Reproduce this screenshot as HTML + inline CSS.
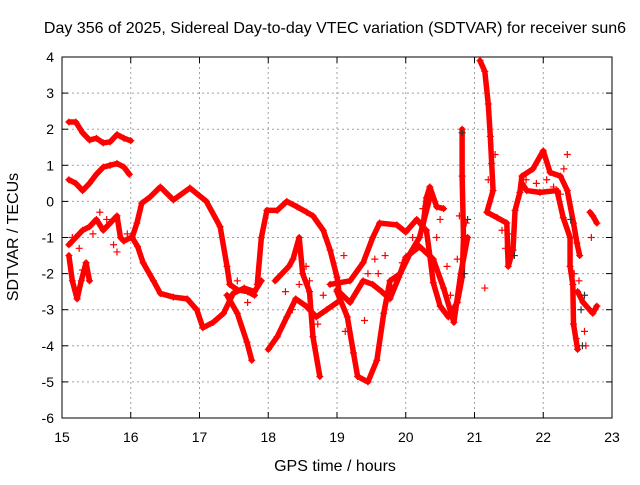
<!DOCTYPE html>
<html><head><meta charset="utf-8"><style>
body{margin:0;background:#fff;}
svg text{font-family:"Liberation Sans",sans-serif;font-size:14px;fill:#000;}
svg text.big{font-size:16px;}
</style></head><body>
<svg id="chart" width="640" height="480" viewBox="0 0 640 480" xmlns="http://www.w3.org/2000/svg">
<text class="big" x="335" y="33" text-anchor="middle">Day 356 of 2025, Sidereal Day-to-day VTEC variation (SDTVAR) for receiver sun6</text>
<text class="big" x="335" y="471" text-anchor="middle">GPS time / hours</text>
<text class="big" transform="translate(18,237) rotate(-90)" text-anchor="middle">SDTVAR / TECUs</text>
<g id="grid"></g>
<g id="marks"></g>
<rect x="62" y="57" width="550" height="361" fill="none" stroke="#000" stroke-width="1"/>
<g id="ticks"></g>
</svg>
<script>
const xTicks=[15,16,17,18,19,20,21,22,23];
const yTicks=[4,3,2,1,0,-1,-2,-3,-4,-5,-6];
const traceA=[[15.1,2.2],[15.2,2.2],[15.3,1.9],[15.4,1.7],[15.5,1.75],[15.6,1.62],[15.7,1.65],[15.8,1.85],[15.9,1.75],[16.0,1.68]];
const traceB=[[15.1,0.6],[15.2,0.5],[15.3,0.3],[15.4,0.5],[15.5,0.75],[15.6,0.95],[15.7,1.0],[15.8,1.05],[15.9,0.95],[15.98,0.75]];
const traceC1=[[15.1,-1.5],[15.15,-2.2],[15.22,-2.7],[15.28,-2.2],[15.35,-1.7],[15.4,-2.2]];
const traceC2=[[15.1,-1.2],[15.2,-1.0],[15.3,-0.8],[15.4,-0.7],[15.5,-0.5],[15.6,-0.8],[15.7,-0.6],[15.8,-0.4],[15.85,-1.0],[15.9,-1.1],[16.0,-1.0]];
const traceD=[[16.02,-1.0],[16.09,-0.6],[16.16,-0.05],[16.28,0.12],[16.43,0.4],[16.62,0.04],[16.86,0.37],[17.1,0.0],[17.3,-0.7],[17.4,-1.8],[17.44,-2.3],[17.55,-2.45],[17.7,-2.5],[17.8,-2.6]];
const traceD2=[[16.02,-1.0],[16.1,-1.25],[16.18,-1.7],[16.33,-2.2],[16.43,-2.55],[16.62,-2.65],[16.82,-2.7],[16.96,-3.0],[17.05,-3.5],[17.2,-3.35],[17.35,-3.1],[17.49,-2.55],[17.65,-2.4],[17.8,-2.5],[17.9,-2.2]];
const traceD3=[[17.4,-2.6],[17.55,-3.1],[17.69,-3.9],[17.76,-4.4]];
const traceE=[[17.84,-2.3],[17.9,-1.0],[17.98,-0.25],[18.13,-0.25],[18.27,0.0],[18.42,-0.15],[18.56,-0.3],[18.65,-0.4],[18.8,-0.8],[18.9,-1.35],[19.0,-2.1],[19.04,-2.65]];
const traceE2=[[18.0,-4.1],[18.13,-3.75],[18.27,-3.2],[18.4,-2.7],[18.55,-2.9],[18.7,-3.2],[18.85,-3.0],[19.0,-2.8]];
const traceE3=[[18.1,-2.2],[18.2,-2.0],[18.3,-1.8],[18.36,-1.6],[18.45,-1.0],[18.5,-2.0],[18.6,-2.5],[18.65,-3.75],[18.75,-4.85]];
const traceF=[[18.9,-2.3],[19.19,-2.2],[19.38,-1.7],[19.52,-1.0],[19.62,-0.6],[19.87,-0.65],[20.0,-0.85],[20.16,-0.5],[20.25,-0.7],[20.3,0.1],[20.35,0.4],[20.45,-0.15],[20.55,-0.2]];
const traceF2=[[20.3,-0.8],[20.35,-1.5],[20.4,-2.25],[20.5,-2.9],[20.62,-3.2],[20.75,-2.8],[20.82,-2.1],[20.84,-1.0],[20.82,0.7],[20.82,2.0]];
const traceF3=[[19.0,-2.5],[19.15,-3.2],[19.24,-4.2],[19.3,-4.85],[19.45,-5.0],[19.58,-4.4],[19.68,-3.1],[19.77,-2.2],[19.92,-2.0],[20.06,-1.45],[20.2,-1.0],[20.35,0.1]];
const traceF4=[[19.0,-2.45],[19.19,-2.8],[19.38,-2.2],[19.52,-2.3],[19.65,-2.5],[19.77,-2.7],[19.9,-2.1],[20.0,-1.55],[20.2,-1.25],[20.4,-1.6],[20.55,-2.4],[20.7,-3.35],[20.8,-2.0],[20.9,-1.0]];
const traceG=[[21.08,3.9],[21.15,3.6],[21.2,2.7],[21.23,1.8],[21.25,1.05],[21.27,0.3],[21.18,-0.3],[21.33,-0.45],[21.47,-0.6],[21.49,-1.8],[21.56,-1.35],[21.59,-0.25],[21.66,0.25],[21.69,0.7],[21.85,0.9],[22.0,1.4],[22.1,0.8],[22.25,0.7],[22.35,0.3],[22.44,-0.6],[22.49,-1.15],[22.53,-1.5]];
const traceG2=[[21.69,0.5],[21.76,0.3],[21.95,0.25],[22.2,0.3],[22.29,-0.45],[22.39,-1.0],[22.39,-1.8],[22.43,-2.3],[22.44,-3.4],[22.5,-4.1]];
const traceG3=[[22.68,-0.3],[22.72,-0.4],[22.78,-0.6]];
const traceG4=[[22.5,-2.5],[22.58,-2.8],[22.72,-3.1],[22.78,-2.9]];
const scatterPts=[[15.15,-1.0],[15.25,-1.3],[15.3,-1.9],[15.45,-0.9],[15.55,-0.3],[15.65,-0.5],[15.75,-1.2],[15.8,-1.4],[15.95,-0.9],[17.55,-2.2],[17.7,-2.8],[18.25,-2.5],[18.35,-3.0],[18.45,-2.3],[18.55,-1.8],[18.6,-2.2],[18.72,-3.4],[18.8,-2.6],[19.1,-1.5],[19.12,-3.6],[19.4,-3.3],[19.45,-2.0],[19.55,-1.6],[19.6,-2.0],[19.7,-1.5],[19.8,-2.4],[19.95,-1.7],[20.1,-1.0],[20.25,-0.2],[20.45,-1.0],[20.5,-0.5],[20.6,-1.8],[20.65,-2.6],[20.75,-1.6],[20.78,-0.4],[20.88,-0.6],[21.15,-2.4],[21.2,0.6],[21.3,1.3],[21.4,-0.8],[21.45,-1.3],[21.55,-0.9],[21.75,0.6],[21.9,0.5],[22.05,0.6],[22.15,0.4],[22.25,0.2],[22.3,0.9],[22.35,1.3],[22.45,-2.0],[22.48,-3.8],[22.52,-2.2],[22.6,-3.6],[22.62,-4.0],[22.7,-1.0]];
const blackPts=[[20.82,1.9],[20.85,-2.0],[20.9,-0.5],[22.55,-3.0],[22.57,-4.0],[22.6,-2.6],[21.58,-1.5],[22.4,-0.5]];
const X=t=>62+(t-15)*68.75, Y=v=>57+(4-v)*36.1;
const NS='http://www.w3.org/2000/svg';
const grid=document.getElementById('grid'),ticks=document.getElementById('ticks'),marks=document.getElementById('marks');
function mk(tag,attrs,parent){const e=document.createElementNS(NS,tag);for(const k in attrs)e.setAttribute(k,attrs[k]);parent.appendChild(e);return e;}
xTicks.forEach(t=>{
 if(t>15&&t<23){const g=mk('line',{x1:X(t),x2:X(t),y1:57,y2:418,stroke:'#a0a0a0','stroke-dasharray':'2,3'},grid);
 
 }
 mk('line',{x1:X(t),x2:X(t),y1:418,y2:412,stroke:'#000'},ticks);
 mk('line',{x1:X(t),x2:X(t),y1:57,y2:63,stroke:'#000'},ticks);
 const l=mk('text',{x:X(t),y:442,'text-anchor':'middle'},ticks);l.textContent=t;
 
 
});
yTicks.forEach(v=>{
 if(v<4&&v>-6){const g=mk('line',{x1:62,x2:612,y1:Y(v),y2:Y(v),stroke:'#a0a0a0','stroke-dasharray':'2,3'},grid);
 
 }
 mk('line',{x1:62,x2:68,y1:Y(v),y2:Y(v),stroke:'#000'},ticks);
 mk('line',{x1:606,x2:612,y1:Y(v),y2:Y(v),stroke:'#000'},ticks);
 const l=mk('text',{x:54,y:Y(v)+5,'text-anchor':'end'},ticks);l.textContent=v;
 
 
});
function plus(t,v,c){const p=mk('path',{d:`M${X(t)-3.5},${Y(v)}h7M${X(t)},${Y(v)-3.5}v7`,stroke:c,'stroke-width':1.2,fill:'none'},marks);
 
 }
const traces=[traceA,traceB,traceC1,traceC2,traceD,traceD2,traceD3,traceE,traceE2,traceE3,traceF,traceF2,traceF3,traceF4,traceG,traceG2,traceG3,traceG4];
traces.forEach(tr=>{
 const pl=mk('polyline',{points:tr.map(p=>X(p[0])+','+Y(p[1])).join(' '),fill:'none',stroke:'#ff0000','stroke-width':5.5,'stroke-linejoin':'round','stroke-linecap':'round'},marks);
 
 
 tr.forEach(p=>plus(p[0],p[1],'#ff0000'));
});
scatterPts.forEach(p=>plus(p[0],p[1],'#ff0000'));
blackPts.forEach(p=>plus(p[0],p[1],'#333'));
</script>
</body></html>
